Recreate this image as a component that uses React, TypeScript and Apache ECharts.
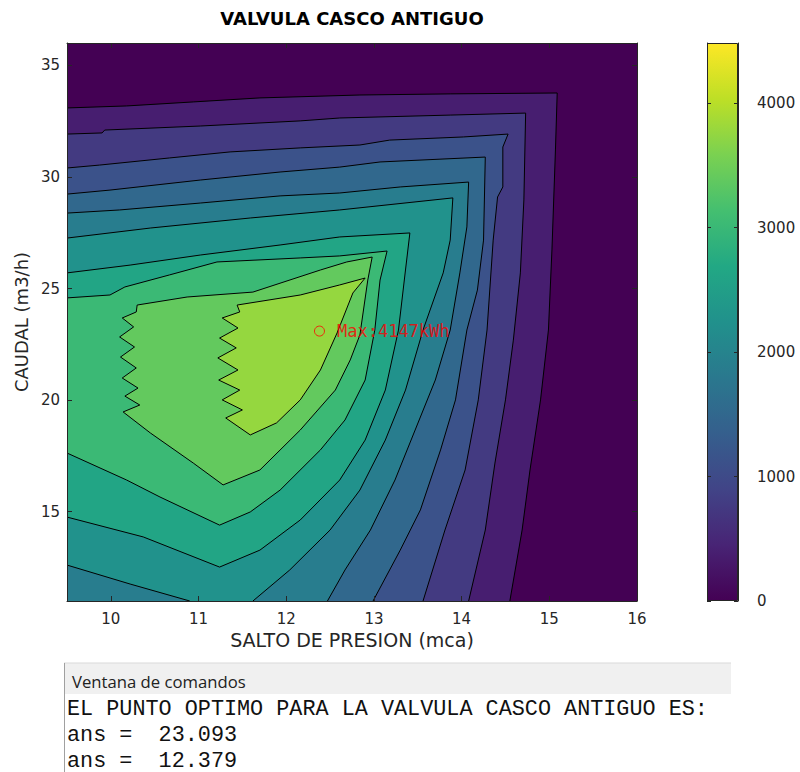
import React, { useEffect, useRef } from "react";
import * as echarts from "echarts";

// ---------- data ----------
const chartTitle = "VALVULA CASCO ANTIGUO";
const xName = "SALTO DE PRESION (mca)";
const yName = "CAUDAL (m3/h)";
const xRange = [9.5, 16];
const yRange = [11, 36];
const xTicks = [10, 11, 12, 13, 14, 15, 16];
const yTicks = [15, 20, 25, 30, 35];
const colorRange = [0, 4483];
const colorTicks = [0, 1000, 2000, 3000, 4000];
const viridis = [
  "#440154", "#482475", "#414487", "#355f8d", "#2a788e", "#21918c",
  "#22a884", "#44bf70", "#7ad151", "#bddf26", "#fde725",
];
// contour levels (kWh)
const levels = [0, 377, 754, 1131, 1508, 1885, 2262, 2639, 3016, 3393, 3770];

// superlevel regions (x = salto, y = caudal), one per contour level
const c0 = [[9.5, 11], [16, 11], [16, 36], [9.5, 36]];
const c377 = [[9.5, 33.09], [10.18, 33.18], [10.94, 33.36], [11.7, 33.54], [12.84, 33.67], [13.87, 33.72], [15.09, 33.76], [15.07, 31.21], [15.03, 26.73], [14.99, 23.14], [14.9, 20.01], [14.78, 16.87], [14.69, 14.18], [14.55, 11], [9.5, 11]];
const c754 = [[9.5, 31.92], [9.9, 31.97], [9.93, 32.1], [11.02, 32.28], [12.16, 32.51], [12.61, 32.64], [13.87, 32.77], [14.73, 32.86], [14.71, 28.97], [14.67, 25.7], [14.59, 22.69], [14.5, 20.01], [14.38, 17.18], [14.27, 14.18], [14.08, 11], [9.5, 11]];
const c1131 = [[9.5, 30.4], [9.87, 30.53], [10.67, 30.85], [11.36, 31.12], [12.16, 31.3], [12.84, 31.43], [13.18, 31.65], [14.02, 31.79], [14.53, 31.92], [14.47, 31.34], [14.47, 29.55], [14.41, 29.1], [14.36, 27.17], [14.29, 23.14], [14.19, 20.01], [14.04, 16.87], [13.81, 14.18], [13.56, 11], [9.5, 11]];
const c1508 = [[9.5, 29.23], [9.99, 29.41], [11.02, 29.86], [11.93, 30.22], [12.61, 30.44], [13.07, 30.67], [14.27, 30.89], [14.25, 27.17], [14.18, 24.93], [14.06, 23.14], [13.93, 20.01], [13.76, 17.77], [13.53, 15.08], [13.3, 13.28], [12.99, 11], [9.5, 11]];
const c1885 = [[9.5, 28.38], [10.1, 28.52], [11.02, 28.83], [11.93, 29.15], [12.61, 29.28], [13.3, 29.55], [14.08, 29.77], [14.06, 27.76], [13.98, 25.7], [13.87, 23.14], [13.7, 20.9], [13.47, 18.66], [13.24, 16.42], [12.96, 14.18], [12.67, 12.39], [12.47, 11], [9.5, 11]];
const c2262 = [[9.5, 27.26], [10.45, 27.71], [11.59, 28.16], [12.61, 28.52], [13.9, 29.06], [13.87, 27.17], [13.79, 25.7], [13.56, 23.14], [13.36, 20.45], [13.13, 18.21], [12.84, 15.97], [12.5, 14.18], [12.04, 12.39], [11.62, 11], [10.9, 11], [10.22, 11.76], [9.5, 12.61]];
const c2639 = [[9.5, 25.7], [10.22, 26.05], [11.02, 26.5], [11.93, 26.95], [12.61, 27.31], [13.41, 27.49], [13.36, 25.83], [13.28, 23.14], [13.13, 20.45], [12.9, 18.21], [12.61, 16.42], [12.16, 14.63], [11.7, 13.28], [11.24, 12.52], [10.37, 13.87], [9.5, 14.76]];
const c3016 = [[9.5, 24.58], [9.99, 24.71], [10.16, 25.07], [10.67, 25.61], [11.21, 26.19], [12.16, 26.37], [12.61, 26.46], [13.15, 26.68], [13.07, 25.38], [13.01, 23.14], [12.9, 20.9], [12.67, 19.11], [12.39, 17.77], [11.93, 15.97], [11.59, 14.99], [11.24, 14.4], [10.56, 15.66], [10.18, 16.42], [9.5, 17.63]];
const c3393 = [[10.3, 24.26], [10.87, 24.62], [11.62, 24.84], [12.39, 25.83], [12.69, 26.19], [12.98, 26.41], [12.93, 25.38], [12.84, 22.92], [12.73, 21.8], [12.56, 20.45], [12.16, 18.66], [11.7, 16.87], [11.28, 16.2], [10.94, 17.18], [10.45, 18.53], [10.14, 19.47], [10.33, 19.78], [10.16, 20.18], [10.31, 20.54], [10.13, 20.99], [10.29, 21.44], [10.11, 21.93], [10.27, 22.38], [10.1, 22.83], [10.26, 23.28], [10.13, 23.68], [10.29, 23.95]];
const c3770 = [[11.44, 24.26], [12.16, 24.71], [12.61, 25.16], [12.9, 25.47], [12.76, 24.8], [12.58, 23.01], [12.39, 21.35], [12.16, 20.01], [11.89, 18.98], [11.59, 18.44], [11.31, 19.2], [11.5, 19.56], [11.27, 20.01], [11.47, 20.45], [11.23, 20.9], [11.45, 21.35], [11.22, 21.89], [11.43, 22.34], [11.24, 22.78], [11.45, 23.23], [11.27, 23.68], [11.47, 23.95]];
const contours = [c0, c377, c754, c1131, c1508, c1885, c2262, c2639, c3016, c3393, c3770];

const maxPoint = [12.379, 23.093]; // [salto, caudal]
const maxValue = 4147;
const consoleHeader = "Ventana de comandos";
const consoleIntro = "EL PUNTO OPTIMO PARA LA VALVULA CASCO ANTIGUO ES:";
const consoleAnswers = [maxPoint[1], maxPoint[0]];

// ---------- helpers ----------
const onEdge = (a: number[], b: number[]) =>
  (a[0] === b[0] && (a[0] === xRange[0] || a[0] === xRange[1])) ||
  (a[1] === b[1] && (a[1] === yRange[0] || a[1] === yRange[1]));

const axisColor = "#262626";
const FONT = "DejaVu Sans";

export default function App() {
  const ref = useRef<HTMLDivElement>(null);
  useEffect(() => {
    if (!ref.current) return;
    const chart = echarts.init(ref.current, null, { renderer: "svg" });

    const renderItem = (params: any, api: any) => {
      const idx = api.value(3);
      const poly = contours[idx];
      const pts = poly.map((p) => api.coord(p));
      const color = api.visual("color");
      const children: any[] = [
        { type: "polygon", shape: { points: pts }, style: { fill: color, stroke: null } },
      ];
      if (idx > 0) {
        const n = poly.length;
        const lineStyle = { fill: null, stroke: "#000", lineWidth: 1 };
        let start = -1;
        for (let i = 0; i < n; i++) {
          if (onEdge(poly[(i - 1 + n) % n], poly[i])) { start = i; break; }
        }
        if (start < 0) {
          children.push({ type: "polygon", shape: { points: pts }, style: lineStyle });
        } else {
          let cur = [pts[start]];
          for (let k = 0; k < n; k++) {
            const i = (start + k) % n;
            const j = (i + 1) % n;
            if (onEdge(poly[i], poly[j])) {
              if (cur.length > 1) children.push({ type: "polyline", shape: { points: cur }, style: lineStyle });
              cur = [pts[j]];
            } else cur.push(pts[j]);
          }
          if (cur.length > 1) children.push({ type: "polyline", shape: { points: cur }, style: lineStyle });
        }
      }
      return { type: "group", children };
    };

    const tickCommon = { inside: true, length: 5, lineStyle: { color: axisColor } };
    const labelStyle = { color: axisColor, fontSize: 15, fontFamily: FONT };
    const plain = (v: number) => String(v);

    chart.setOption({
      animation: false,
      textStyle: { fontFamily: FONT },
      grid: [
        { left: 67, top: 43, width: 570, height: 558 },
        { left: 707, top: 43, width: 31, height: 558 },
      ],
      visualMap: {
        type: "continuous",
        show: false,
        seriesIndex: 0,
        dimension: 2,
        min: colorRange[0],
        max: colorRange[1],
        inRange: { color: viridis },
      },
      xAxis: [
        {
          gridIndex: 0, type: "value", min: xRange[0], max: xRange[1], position: "bottom", z: 10,
          splitLine: { show: false },
          axisLine: { lineStyle: { color: axisColor } },
          axisTick: { ...tickCommon, customValues: xTicks },
          axisLabel: { ...labelStyle, margin: 10, customValues: xTicks, formatter: plain },
          name: xName, nameLocation: "middle", nameGap: 27,
          nameTextStyle: { color: axisColor, fontSize: 19, fontFamily: FONT },
        },
        {
          gridIndex: 0, type: "value", min: xRange[0], max: xRange[1], position: "top", z: 10,
          splitLine: { show: false },
          axisLine: { lineStyle: { color: axisColor } },
          axisTick: { ...tickCommon, customValues: xTicks },
          axisLabel: { show: false },
        },
        {
          gridIndex: 1, type: "category", data: ["colorbar"], show: false,
        },
      ],
      yAxis: [
        {
          gridIndex: 0, type: "value", min: yRange[0], max: yRange[1], position: "left", z: 10,
          splitLine: { show: false },
          axisLine: { show: true, lineStyle: { color: axisColor } },
          axisTick: { show: true, ...tickCommon, customValues: yTicks },
          axisLabel: { ...labelStyle, margin: 7, customValues: yTicks, formatter: plain },
          name: yName, nameLocation: "middle", nameGap: 36, nameRotate: 90,
          nameTextStyle: { color: axisColor, fontSize: 18, fontFamily: FONT },
        },
        {
          gridIndex: 0, type: "value", min: yRange[0], max: yRange[1], position: "right", z: 10,
          splitLine: { show: false },
          axisLine: { show: true, lineStyle: { color: axisColor } },
          axisTick: { show: true, ...tickCommon, customValues: yTicks },
          axisLabel: { show: false },
        },
        {
          gridIndex: 1, type: "value", min: colorRange[0], max: colorRange[1], position: "right", z: 10,
          splitLine: { show: false },
          axisLine: { show: true, lineStyle: { color: axisColor } },
          axisTick: { show: true, inside: true, length: 4, lineStyle: { color: axisColor }, customValues: colorTicks },
          axisLabel: { ...labelStyle, margin: 19, customValues: colorTicks, formatter: plain },
        },
        {
          gridIndex: 1, type: "value", min: colorRange[0], max: colorRange[1], position: "left", z: 10,
          splitLine: { show: false },
          axisLine: { show: true, lineStyle: { color: axisColor } },
          axisTick: { show: true, inside: true, length: 4, lineStyle: { color: axisColor }, customValues: colorTicks },
          axisLabel: { show: false },
        },
      ],
      series: [
        {
          type: "custom",
          xAxisIndex: 0,
          yAxisIndex: 0,
          clip: true,
          encode: { x: 0, y: 1 },
          renderItem,
          data: contours.map((c, i) => [c[0][0], c[0][1], levels[i], i]),
          z: 2,
        },
        {
          type: "scatter",
          xAxisIndex: 0,
          yAxisIndex: 0,
          z: 5,
          symbol: "circle",
          symbolSize: 10,
          itemStyle: { color: "rgba(0,0,0,0)", borderColor: "#ff0000", borderWidth: 1 },
          label: {
            show: true,
            position: "right",
            distance: 12,
            formatter: () => `Max:${maxValue}kWh`,
            color: "#ff0000",
            fontFamily: "DejaVu Sans Mono",
            fontSize: 17,
          },
          data: [maxPoint],
        },
        {
          type: "bar",
          xAxisIndex: 2,
          yAxisIndex: 2,
          barWidth: "100%",
          z: 2,
          itemStyle: {
            color: new echarts.graphic.LinearGradient(
              0, 1, 0, 0,
              viridis.map((c, i) => ({ offset: i / (viridis.length - 1), color: c }))
            ),
            borderColor: axisColor,
            borderWidth: 1,
          },
          data: [colorRange[1]],
        },
      ],
      graphic: [
        {
          type: "text", x: 352, y: 18,
          style: {
            text: chartTitle, fill: "#000", fontSize: 18, fontWeight: "bold", fontFamily: FONT,
            align: "center", verticalAlign: "middle", textAlign: "center", textVerticalAlign: "middle",
          },
        },
        { type: "rect", shape: { x: 64, y: 663, width: 667, height: 31 }, style: { fill: "#f0f0f0" } },
        { type: "line", shape: { x1: 64, y1: 663, x2: 731, y2: 663 }, style: { stroke: "#d9d9d9", lineWidth: 1 } },
        { type: "line", shape: { x1: 64.5, y1: 663, x2: 64.5, y2: 772 }, style: { stroke: "#a0a0a0", lineWidth: 1 } },
        {
          type: "text", x: 72, y: 681,
          style: {
            text: consoleHeader, fill: "#222", fontSize: 16.7, fontFamily: "Open Sans",
            align: "left", verticalAlign: "middle", textAlign: "left", textVerticalAlign: "middle",
          },
        },
        ...[consoleIntro, ...consoleAnswers.map((v) => `ans =  ${v.toFixed(3)}`)].map((t, i) => ({
          type: "text", x: 67, y: 709 + i * 26,
          style: {
            text: t, fill: "#111", fontSize: 21.8, fontFamily: "Liberation Mono",
            align: "left", verticalAlign: "middle", textAlign: "left", textVerticalAlign: "middle",
          },
        })),
      ],
    });
    return () => chart.dispose();
  }, []);

  return (
    <div
      ref={ref}
      style={{ position: "absolute", left: 0, top: 0, width: 800, height: 772, background: "#fff" }}
    />
  );
}
